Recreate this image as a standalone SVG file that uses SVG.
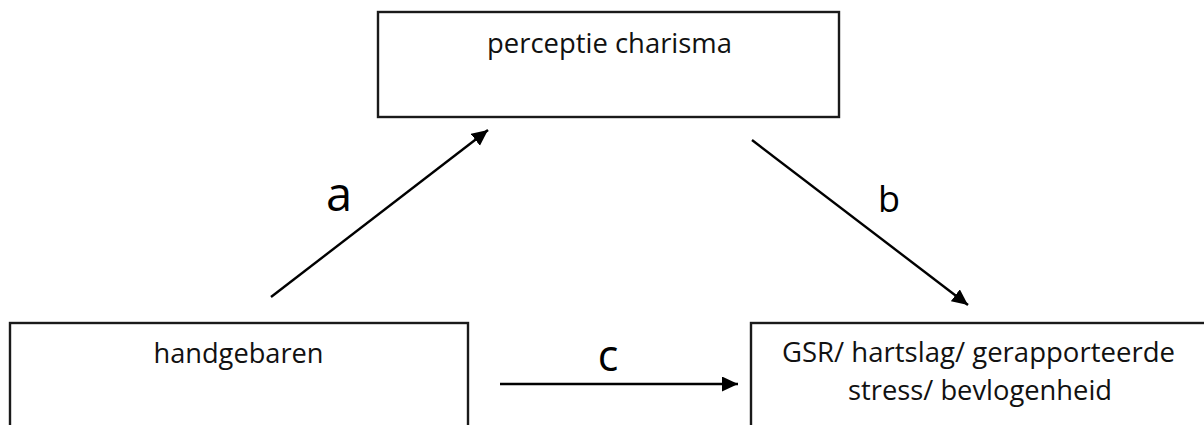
<svg xmlns="http://www.w3.org/2000/svg" width="1204" height="425" viewBox="0 0 1204 425">
<style>
.box{fill:#ffffff;stroke:#1a1a1a;stroke-width:2.4}
.t{font-family:"Open Sans","Liberation Sans",sans-serif;font-size:27px;fill:#111111;text-anchor:middle}
.lbl{font-family:"Open Sans","Liberation Sans",sans-serif;fill:#000000;text-anchor:middle}
.conn{stroke:#000000;stroke-width:2.4;fill:none;marker-end:url(#ah)}
</style>
<defs>
<marker id="ah" markerUnits="userSpaceOnUse" markerWidth="17" markerHeight="16" refX="16" refY="7.5" orient="auto">
<path d="M0,0 L16,7.5 L0,15 z" fill="#000000"/>
</marker>
</defs>
<rect width="1204" height="425" fill="#ffffff"/>
<g id="node-perceptie">
<rect class="box" x="378" y="12" width="461" height="105"/>
<text class="t" x="609.5" y="53" textLength="245" lengthAdjust="spacingAndGlyphs">perceptie charisma</text>
</g>
<g id="node-handgebaren">
<rect class="box" x="10" y="323" width="458" height="130"/>
<text class="t" x="238.5" y="363" textLength="170" lengthAdjust="spacingAndGlyphs">handgebaren</text>
</g>
<g id="node-gsr">
<rect class="box" x="751" y="323" width="460" height="130"/>
<text class="t" x="978.5" y="362" textLength="393" lengthAdjust="spacingAndGlyphs">GSR/ hartslag/ gerapporteerde</text>
<text class="t" x="980" y="400" textLength="264" lengthAdjust="spacingAndGlyphs">stress/ bevlogenheid</text>
</g>
<g id="connectors">
<line class="conn" x1="271" y1="297" x2="488" y2="130"/>
<line class="conn" x1="752" y1="140" x2="968" y2="305"/>
<line class="conn" x1="500" y1="384" x2="738" y2="384"/>
<text class="lbl" x="339" y="211" font-size="47">a</text>
<text class="lbl" x="889" y="212" font-size="36">b</text>
<text class="lbl" x="608" y="371" font-size="43">c</text>
</g>
</svg>
